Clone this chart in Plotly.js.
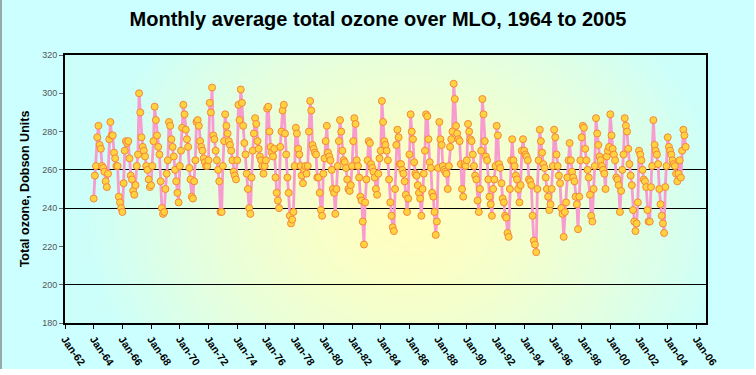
<!DOCTYPE html>
<html>
<head>
<meta charset="utf-8">
<script src="https://cdn.plot.ly/plotly-3.0.1.min.js"></script>
<style>
  html, body { margin: 0; padding: 0; background: #ffffff; }
  #wrap { position: relative; width: 756px; height: 375px; overflow: hidden; }
  #bg { position: absolute; left: 0; top: 0; width: 752px; height: 369px;
        background: #ccffff; border-left: 2px solid #9aa8a8; }
  #chart { position: absolute; left: 0; top: 0; width: 756px; height: 375px; }
</style>
</head>
<body>
<div id="wrap"><div id="bg"></div><div id="chart"></div></div>
<script>
// ---- Data: monthly average total ozone (DU) at MLO, starting Jan 1964 ----
const startYear = 1964;
const oz1960s = [
  245, 257, 262, 277, 283, 273, 271, 262, 261, 259, 254, 251,
  258, 276, 285, 278, 278, 269, 266, 262, 262, 246, 243, 240,
  238, 253, 270, 275, 274, 275, 266, 257, 255, 249, 247, 252,
  262, 268, 300, 290, 277, 272, 270, 267, 262, 260, 255, 251,
  252, 262, 275, 293, 286, 278, 272, 268, 254, 240, 237, 238,
  250, 258, 265, 285, 283, 276, 272, 267, 260, 254, 248, 243
];
const oz1970s = [
  262, 270, 282, 294, 289, 281, 276, 272, 261, 255, 246, 245,
  254, 265, 285, 286, 283, 275, 272, 270, 266, 264, 262, 262,
  265, 295, 290, 303, 278, 276, 270, 265, 260, 254, 238, 238,
  262, 275, 289, 283, 279, 275, 273, 270, 265, 259, 257, 255,
  265, 294, 286, 302, 295, 283, 274, 268, 258, 250, 240, 237,
  256, 270, 279, 287, 284, 275, 271, 267, 265, 262, 258, 262,
  265, 292, 293, 280, 272, 269, 267, 271, 256, 248, 244, 240,
  272, 280, 291, 294, 279, 268, 256, 248, 236, 232, 234, 238,
  262, 282, 279, 271, 268, 262, 257, 253, 260, 262, 258, 262,
  280, 296, 291, 273, 271, 269, 268, 256, 256, 248, 239, 236
];
const oz1980s = [
  258, 266, 275, 283, 269, 267, 265, 260, 250, 248, 237, 250,
  262, 275, 286, 280, 270, 265, 264, 261, 255, 250, 249, 252,
  262, 275, 287, 284, 265, 262, 256, 246, 244, 233, 221, 243,
  255, 265, 275, 274, 263, 261, 259, 256, 250, 247, 258, 266,
  270, 296, 285, 275, 273, 270, 265, 255, 243, 236, 230, 228,
  250, 273, 281, 277, 263, 263, 260, 258, 254, 247, 238, 245,
  268, 289, 280, 276, 264, 258, 257, 252, 248, 245, 236, 250,
  258, 270, 289, 288, 276, 264, 261, 248, 246, 238, 226, 233,
  261, 285, 276, 273, 262, 260, 259, 258, 250, 262, 272, 276,
  280, 305, 297, 283, 279, 276, 275, 263, 250, 246, 263, 262
];
const oz1990s = [
  265, 284, 280, 276, 275, 268, 262, 257, 255, 244, 238, 250,
  270, 297, 289, 275, 267, 265, 255, 246, 242, 236, 250, 255,
  262, 283, 278, 263, 261, 253, 245, 243, 236, 235, 227, 225,
  250, 265, 276, 265, 262, 257, 255, 250, 243, 252, 270, 276,
  270, 268, 267, 265, 255, 254, 252, 236, 223, 221, 217, 250,
  265, 281, 275, 269, 263, 261, 256, 250, 246, 239, 242, 250,
  262, 281, 277, 268, 262, 257, 253, 240, 237, 225, 238, 243,
  256, 265, 274, 265, 259, 256, 254, 246, 242, 229, 246, 265,
  277, 283, 282, 271, 265, 260, 256, 247, 236, 233, 250, 262,
  287, 279, 273, 267, 265, 262, 260, 258, 250, 267, 270, 272
];
const oz2000s = [
  289, 278, 271, 268, 265, 256, 255, 252, 238, 249, 260, 268,
  287, 283, 280, 271, 263, 257, 252, 239, 233, 228, 232, 243,
  270, 268, 265, 260, 255, 254, 251, 239, 233, 233, 251, 262,
  286, 273, 270, 268, 263, 250, 242, 236, 232, 227, 251, 262,
  277, 272, 270, 268, 265, 263, 262, 258, 254, 258, 265, 256,
  270, 281, 278, 272
];
const yTicks = [180, 200, 220, 240, 260, 280, 300, 320];
const gridValues = [200, 240, 260];
const chartTitle = 'Monthly average total ozone over MLO, 1964 to 2005';
const yTitle = 'Total ozone, Dobson Units';

// ---- Build series ----
const ozone = [].concat(oz1960s, oz1970s, oz1980s, oz1990s, oz2000s);
const dates = ozone.map((_, i) => {
  const y = startYear + Math.floor(i / 12);
  const m = (i % 12) + 1;
  return y + '-' + String(m).padStart(2, '0') + '-01';
});

// ---- Plot-area gradient background (centre yellow, edges cyan) ----
function gradientImage(w, h) {
  const c = document.createElement('canvas');
  c.width = w; c.height = h;
  const ctx = c.getContext('2d');
  const img = ctx.createImageData(w, h);
  const cen = [255, 255, 192], edge = [204, 255, 250];
  const cx = w * 0.53, cy = h * 0.6;
  for (let y = 0; y < h; y++) {
    for (let x = 0; x < w; x++) {
      const dx = (x - cx) / (w * 0.5), dy = (y - cy) / (h * 1.0);
      let t = Math.sqrt(dx * dx + dy * dy);
      t = Math.min(1, t);
      t = Math.pow(t, 1.5);
      const k = (y * w + x) * 4;
      for (let j = 0; j < 3; j++) img.data[k + j] = Math.round(cen[j] + (edge[j] - cen[j]) * t);
      img.data[k + 3] = 255;
    }
  }
  ctx.putImageData(img, 0, 0);
  return c.toDataURL('image/png');
}

const trace = {
  type: 'scatter',
  mode: 'lines+markers',
  x: dates,
  y: ozone,
  line: { color: '#f79ccf', width: 2.8 },
  marker: { symbol: 'circle', size: 7, color: '#ffd23f', line: { color: '#f5873a', width: 1 } },
  hoverinfo: 'x+y'
};
const gridTrace = { type: 'scatter', x: [], y: [], yaxis: 'y2', showlegend: false, hoverinfo: 'skip' };

const layout = {
  width: 756, height: 375,
  margin: { l: 65, r: 50, t: 55, b: 52 },
  paper_bgcolor: 'rgba(0,0,0,0)',
  plot_bgcolor: 'rgba(0,0,0,0)',
  showlegend: false,
  font: { family: 'Liberation Sans, Arial, sans-serif', color: '#000' },
  title: {
    text: '<b>' + chartTitle + '</b>',
    font: { size: 20, family: 'Liberation Sans, Arial, sans-serif', color: '#000' },
    x: 0.5, xref: 'container', xanchor: 'center',
    y: 1 - 19 / 375, yref: 'container', yanchor: 'middle'
  },
  xaxis: {
    type: 'date',
    range: ['1962-01-01', '2006-09-01'],
    tick0: '1962-01-01', dtick: 'M24',
    tickformat: '%b-%y',
    tickangle: 55,
    tickfont: { size: 10.5, color: '#000', family: 'Liberation Sans, Arial, sans-serif', weight: 'bold' },
    ticks: 'outside', ticklen: 4, tickcolor: '#000', tickwidth: 1,
    showgrid: false, zeroline: false,
    showline: true, linecolor: '#000', linewidth: 2, mirror: true
  },
  yaxis: {
    range: [180, 320],
    tickvals: yTicks,
    ticktext: yTicks.map(String),
    tickfont: { size: 9, color: '#555', family: 'Liberation Sans, Arial, sans-serif' },
    ticks: 'outside', ticklen: 4, tickcolor: '#666', tickwidth: 1,
    showgrid: false, zeroline: false,
    showline: true, linecolor: '#000', linewidth: 2, mirror: true,
    title: { text: '<b>' + yTitle + '</b>', font: { size: 12.5, color: '#000' }, standoff: 10 }
  },
  yaxis2: {
    overlaying: 'y', side: 'right', range: [180, 320],
    tickvals: gridValues, showticklabels: false, ticks: '',
    showgrid: true, gridcolor: '#000', gridwidth: 1,
    zeroline: false, showline: false
  },
  images: [{
    source: gradientImage(641, 268),
    xref: 'paper', yref: 'paper', x: 0, y: 1, sizex: 1, sizey: 1,
    sizing: 'stretch', xanchor: 'left', yanchor: 'top', layer: 'below'
  }]
};

Plotly.newPlot('chart', [gridTrace, trace], layout, { displayModeBar: false, staticPlot: true });
</script>
</body>
</html>
